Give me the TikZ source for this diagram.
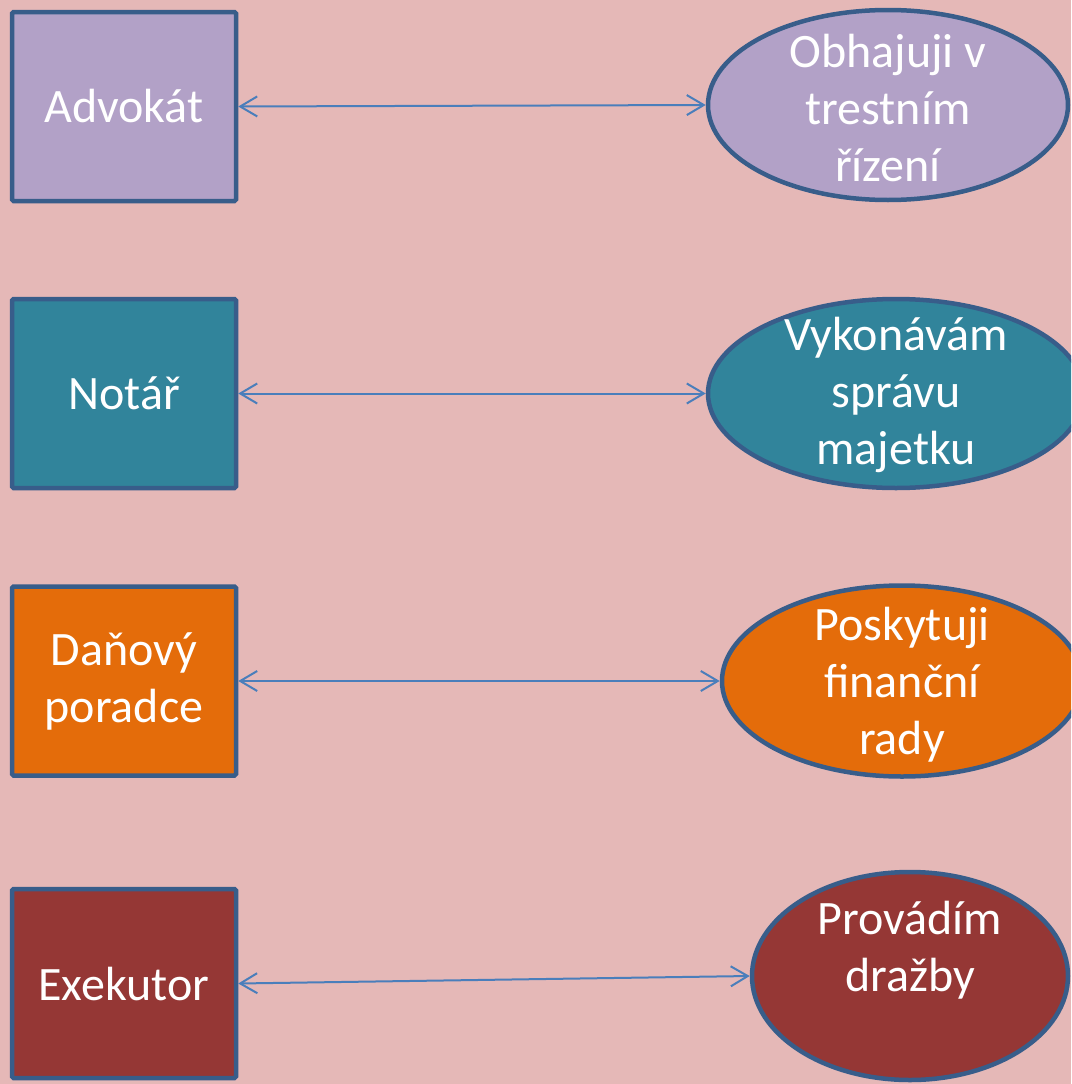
\documentclass[tikz,border=0pt]{standalone}
\usepackage{fontspec}
\setmainfont{Carlito}
\usetikzlibrary{shapes.geometric,arrows.meta}
\definecolor{bgc}{HTML}{E5B8B7}
\definecolor{lav}{HTML}{B2A1C7}
\definecolor{tealc}{HTML}{31849B}
\definecolor{orc}{HTML}{E46C0A}
\definecolor{redc}{HTML}{953735}
\definecolor{bordc}{HTML}{385D8A}
\definecolor{arrc}{HTML}{4A7EBB}
\tikzset{
  txt/.style={text=white,font=\fontsize{48}{57}\selectfont,align=center,inner sep=0pt},
  boxn/.style={txt,draw=bordc,line width=4.5pt,rounded corners=1.5pt,minimum width=224pt,minimum height=189pt,inner sep=0pt},
  elln/.style={ellipse,draw=bordc,line width=4.5pt,inner sep=0pt},
  tip/.style={Straight Barb[length=17pt,width=20pt,line width=2pt]},
  conn/.style={draw=arrc,line width=2pt,{Straight Barb[length=17pt,width=20pt,line width=2pt]}-{Straight Barb[length=17pt,width=20pt,line width=2pt]}}
}
\begin{document}
\begin{tikzpicture}[x=1pt,y=-1pt]
\useasboundingbox (0,0) rectangle (1071,1084);
\fill[bgc] (0,0) rectangle (1071,1084);
\clip (0,0) rectangle (1071,1084);
% boxes
\node[boxn,fill=lav] (b1) at (124,106.5) {Advokát};
\node[boxn,fill=tealc] (b2) at (124,393.5) {Notář};
\node[boxn,fill=orc] (b3) at (124,681) {Daňový\\poradce};
\node[boxn,fill=redc] (b4) at (124,983.5) {Exekutor};
% ellipses
\node[elln,fill=lav,minimum width=360pt,minimum height=190pt] (e1) at (888,105) {};
\node[elln,fill=tealc,minimum width=376pt,minimum height=189pt] (e2) at (896,393.5) {};
\node[elln,fill=orc,minimum width=360pt,minimum height=191pt] (e3) at (902,681) {};
\node[elln,fill=redc,minimum width=316pt,minimum height=208pt] (e4) at (910,976) {};
% ellipse texts
\node[txt] (t1) at (888,108) {Obhajuji v\\trestním\\řízení};
\node[txt] (t2) at (896,395) {Vykonávám\\správu\\majetku};
\node[txt] (t3) at (902,685) {Poskytuji\\finanční\\rady};
\node[txt] (t4) at (910,950) {Provádím\\dražby};
% connectors
\draw[conn] (b1.east) -- (e1.west);
\draw[conn] (b2.east) -- (e2.west);
\draw[conn] (b3.east) -- (e3.west);
\draw[conn] (b4.east) -- (e4.west);
\end{tikzpicture}
\end{document}
